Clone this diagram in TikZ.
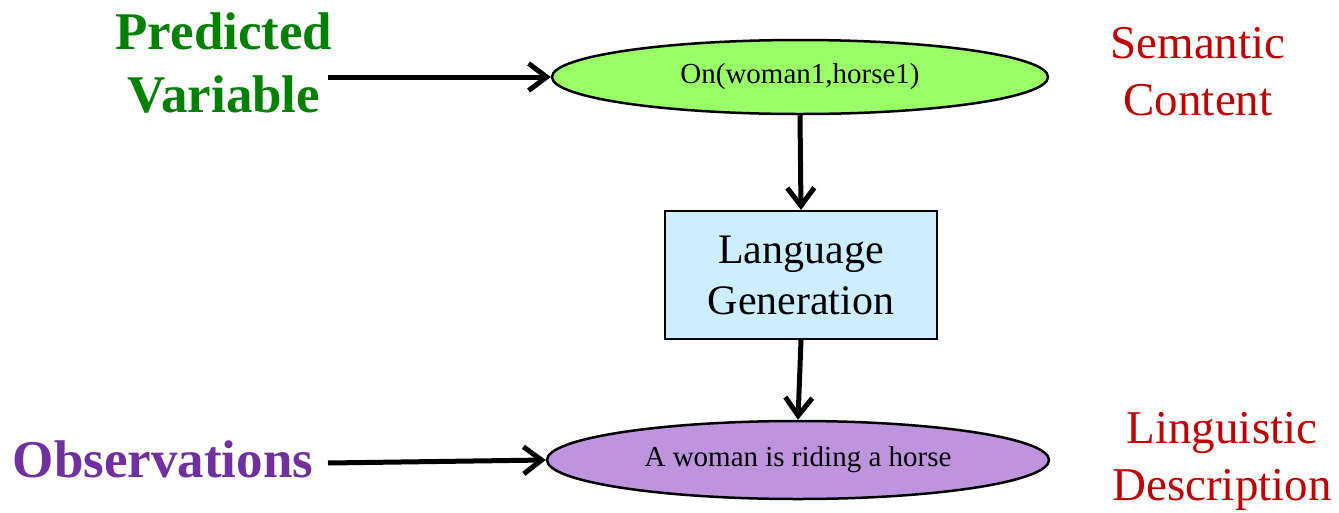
\documentclass[tikz,border=0pt]{standalone}
\usepackage{fontspec}
\setmainfont{Liberation Serif}
\newfontfamily\tnr{Liberation Serif}
\usetikzlibrary{arrows.meta,shapes.geometric}
\definecolor{pvgreen}{RGB}{0,128,0}
\definecolor{obspurple}{RGB}{112,48,160}
\definecolor{semred}{RGB}{192,0,0}
\definecolor{semfill}{RGB}{153,255,102}
\definecolor{lingfill}{RGB}{191,148,222}
\definecolor{genfill}{RGB}{204,238,255}
\tikzset{
  arr/.style={line width=5pt, -{Straight Barb[length=18pt,width=27pt]}},
  oval/.style={ellipse, draw, line width=2.5pt, inner sep=0pt, font=\tnr\fontsize{29}{33}\selectfont},
  genbox/.style={rectangle, draw, line width=2pt, fill=genfill, inner sep=0pt, align=center, font=\tnr\fontsize{42}{51}\selectfont},
  sidelbl/.style={inner sep=0pt, align=center, text=semred, font=\tnr\fontsize{47}{57}\selectfont},
  varlbl/.style={inner sep=0pt, align=center, font=\tnr\fontsize{53}{63}\selectfont\bfseries}
}
\begin{document}
\begin{tikzpicture}[x=1pt,y=-1pt]
\useasboundingbox (0,0) rectangle (1339,512);
\node[oval, fill=semfill, minimum width=496pt, minimum height=74pt] (sem) at (800,77) {On(woman1,horse1)};
\node[genbox, minimum width=272pt, minimum height=128pt] (gen) at (801,275) {Language\\Generation};
\node[oval, fill=lingfill, minimum width=502pt, minimum height=78pt] (ling) at (798,460) {A woman is riding a horse};
\node[varlbl, text=pvgreen] (pv) at (224,63) {Predicted\\Variable};
\node[varlbl, text=obspurple] (obs) at (163,459) {Observations};
\node[sidelbl] (semc) at (1198,72) {Semantic\\Content};
\node[sidelbl] (lingd) at (1222,461) {Linguistic\\Description};
\coordinate (pvend) at (328,77);
\coordinate (obsend) at (328,463);
\draw[arr] (pvend) -- (sem.west);
\draw[arr] (obsend) -- (ling.west);
\draw[arr] (sem.south) -- (gen.north);
\draw[arr] (gen.south) -- (ling.north);
\end{tikzpicture}
\end{document}
